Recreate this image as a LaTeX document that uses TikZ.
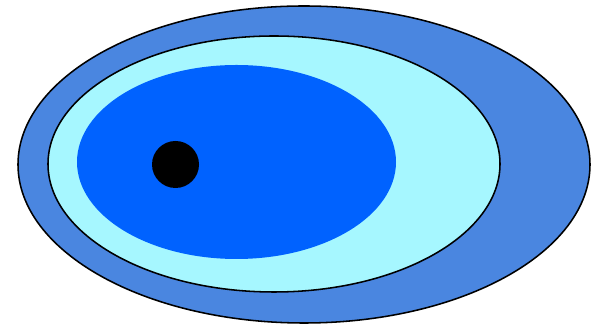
\documentclass[tikz,border=0pt]{standalone}
\definecolor{outerblue}{HTML}{4A86E0}
\definecolor{paleaqua}{HTML}{A6F7FF}
\definecolor{deepblue}{HTML}{0062FF}
\begin{document}
\begin{tikzpicture}[x=.025cm,y=.025cm,line width=1.1pt,rim/.style={draw=black},core/.style={draw=none}]
\path[use as bounding box] (0,0) rectangle (597,326);

\path[rim,fill=outerblue] (304,161.5) ellipse [x radius=286,y radius=158.5];
\path[rim,fill=paleaqua] (274,162) ellipse [x radius=226,y radius=128];
\path[core,fill=deepblue] (236.5,164) ellipse [x radius=159.5,y radius=97];
\fill[black] (175.5,161.5) circle [radius=23.5];

\end{tikzpicture}
\end{document}
